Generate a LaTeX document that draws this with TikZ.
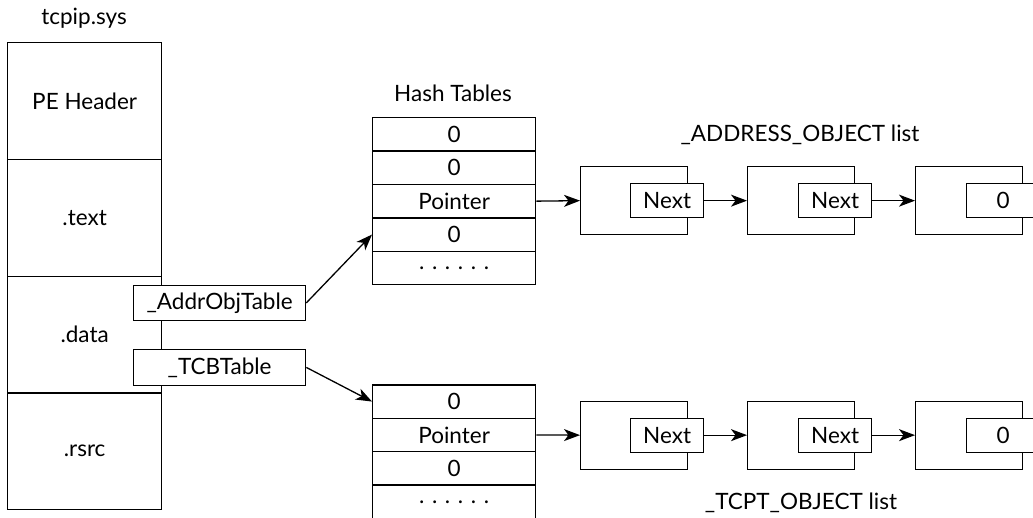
\documentclass[tikz,border=0pt]{standalone}
\usepackage{fontspec}
\setmainfont{Lato}
\usetikzlibrary{arrows.meta}
\begin{document}
\begin{tikzpicture}[x=1pt,y=-1pt,
  base/.style={line width=1.3pt, inner sep=0pt, font=\fontsize{22.5}{26}\selectfont},
  sect/.style={base, draw, fill=white, anchor=north west, minimum width=154pt, minimum height=116.75pt},
  lbl/.style={base, draw, fill=white, anchor=north west, minimum width=172pt, minimum height=35.5pt},
  hrow/.style={base, draw, fill=white, anchor=north west, minimum width=163pt, minimum height=33.4pt},
  obj/.style={base, draw, fill=white, anchor=north west, minimum width=107pt, minimum height=68pt},
  nxt/.style={base, draw, fill=white, anchor=north west, minimum width=73pt, minimum height=34pt},
  txt/.style={base},
  arr/.style={line width=1.3pt, -{Stealth[length=16pt,width=12pt,inset=4.5pt]}}]
\useasboundingbox (0,0) rectangle (1033,517);
% left column
\node[txt] (title) at (84,18) {tcpip.sys};
\node[sect] (pe) at (7,42) {PE Header};
\node[sect] (text) at (7,158.75) {.text};
\node[sect] (data) at (7,275.5) {.data};
\node[sect] (rsrc) at (7,392.25) {.rsrc};
\node[lbl] (addr) at (133,284.5) {\_AddrObjTable};
\node[lbl] (tcb) at (133,349) {\_TCBTable};
% top hash table
\node[txt] (htitle) at (453,93) {Hash Tables};
\node[hrow] (h1) at (372,117) {0};
\node[hrow] (h2) at (372,150.4) {0};
\node[hrow] (h3) at (372,183.8) {Pointer};
\node[hrow] (h4) at (372,217.2) {0};
\node[hrow] (h5) at (372,250.6) {. . . . . .};
% bottom hash table
\node[hrow] (b1) at (372,384.2) {0};
\node[hrow] (b2) at (372,417.6) {Pointer};
\node[hrow] (b3) at (372,451) {0};
\node[hrow] (b4) at (372,484.4) {. . . . . .};
% top list
\node[txt] (ltitle) at (800,135) {\_ADDRESS\_OBJECT list};
\node[obj] (l1) at (580,166) {};
\node[nxt] (n1) at (630,183) {Next};
\node[obj] (l2) at (747,166) {};
\node[nxt] (n2) at (798,183) {Next};
\node[obj] (l3) at (915,166) {};
\node[nxt] (n3) at (966,183) {0};
% bottom list
\node[txt] (btitle) at (801,503) {\_TCPT\_OBJECT list};
\node[obj] (m1) at (580,400.5) {};
\node[nxt] (p1) at (630,417.5) {Next};
\node[obj] (m2) at (747,400.5) {};
\node[nxt] (p2) at (798,417.5) {Next};
\node[obj] (m3) at (915,400.5) {};
\node[nxt] (p3) at (966,417.5) {0};
% connectors
\draw[arr] (addr.east) -- (h4.west);
\draw[arr] (tcb.east) -- (b1.west);
\draw[arr] (h3.east) -- (l1.west);
\draw[arr] (n1.east) -- (l2.west);
\draw[arr] (n2.east) -- (l3.west);
\draw[arr] (b2.east) -- (m1.west);
\draw[arr] (p1.east) -- (m2.west);
\draw[arr] (p2.east) -- (m3.west);
\end{tikzpicture}
\end{document}
